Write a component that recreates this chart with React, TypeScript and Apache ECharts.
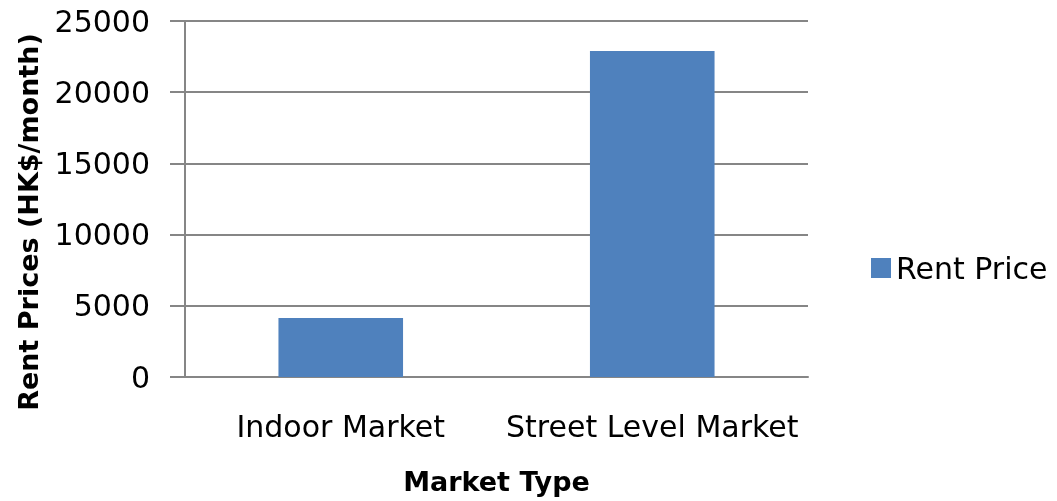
import React, { useEffect, useRef } from "react";
import * as echarts from "echarts";

const categories = ["Indoor Market", "Street Level Market"];
const rentPrice = [4150, 22900];
const seriesName = "Rent Price";
const yTitle = "Rent Prices (HK$/month)";
const xTitle = "Market Type";

export default function App() {
  const ref = useRef<HTMLDivElement>(null);
  useEffect(() => {
    if (!ref.current) return;
    const chart = echarts.init(ref.current, null, { renderer: "svg" });
    const font = "DejaVu Sans";
    chart.setOption({
      animation: false,
      textStyle: { fontFamily: font },
      grid: { left: 185, right: 249, top: 21, bottom: 124, containLabel: false },
      legend: {
        data: [seriesName],
        orient: "vertical",
        left: 866,
        top: 248,
        itemWidth: 20,
        itemHeight: 20,
        itemGap: 10,
        icon: "rect",
        textStyle: { fontSize: 30, color: "#000", fontFamily: font },
      },
      graphic: [
        {
          type: "text",
          x: 28,
          y: 222,
          rotation: Math.PI / 2,
          style: {
            text: yTitle,
            fontSize: 27,
            fontWeight: "bold",
            fontFamily: font,
            fill: "#000",
            textAlign: "center",
            textVerticalAlign: "middle",
          },
        },
      ],
      xAxis: {
        type: "category",
        data: categories,
        name: xTitle,
        nameLocation: "middle",
        nameGap: 91,
        nameTextStyle: { fontSize: 27, fontWeight: "bold", color: "#000", fontFamily: font },
        axisLine: { show: true, lineStyle: { color: "#868686", width: 2 } },
        axisTick: { show: false },
        axisLabel: { fontSize: 30, color: "#000", margin: 34, interval: 0, fontFamily: font },
      },
      yAxis: {
        type: "value",
        min: 0,
        max: 25000,
        interval: 5000,
        axisLine: { show: true, lineStyle: { color: "#868686", width: 2 } },
        axisTick: { show: true, length: 15, lineStyle: { color: "#868686", width: 2 } },
        splitLine: { show: true, lineStyle: { color: "#868686", width: 2 } },
        axisLabel: {
          fontSize: 30,
          color: "#000",
          margin: 35,
          fontFamily: font,
          formatter: (v: number) => String(v),
        },
      },
      series: [
        {
          name: seriesName,
          type: "bar",
          data: rentPrice,
          barCategoryGap: "60%",
          itemStyle: { color: "#4F81BD" },
        },
      ],
    });
    return () => chart.dispose();
  }, []);
  return (
    <div
      ref={ref}
      style={{ position: "fixed", left: 0, top: 0, width: 1057, height: 501 }}
    />
  );
}
